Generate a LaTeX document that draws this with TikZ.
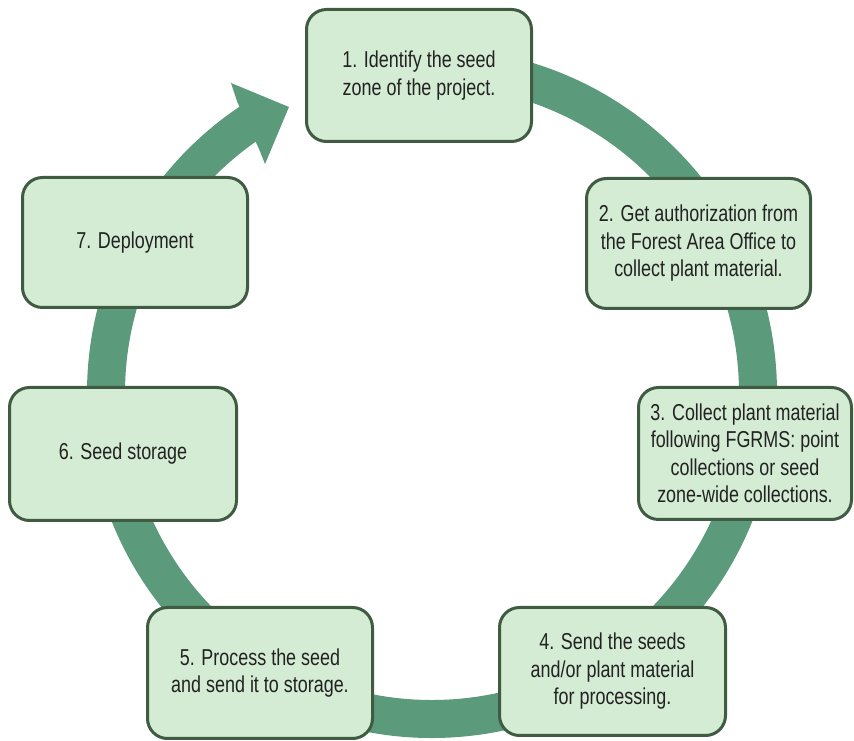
\documentclass[tikz,border=0pt]{standalone}
\usepackage{fontspec}
\setmainfont{Liberation Sans}[FakeStretch=0.78]
\definecolor{ringgreen}{HTML}{5B9A7B}
\definecolor{boxfill}{HTML}{D4EBD4}
\definecolor{boxline}{HTML}{3F5C43}
\definecolor{txt}{HTML}{222222}
\begin{document}
\begin{tikzpicture}[x=1pt,y=1pt,
  stepbox/.style={draw=boxline, fill=boxfill, line width=3pt, rounded corners=20pt,
    align=center, text=txt, inner sep=4pt,
    font=\fontsize{23}{27.5}\selectfont},
  ring/.style={draw=ringgreen, line width=38pt},
  ringhead/.style={fill=ringgreen}]
\useasboundingbox (0,0) rectangle (854,741);
\coordinate (c) at (432,348);
% ring
\draw[ring] ([shift={(95:326)}]c) arc[start angle=95, end angle=-236.3, radius=326];
\fill[ringhead] ([shift={(122.96:369.5)}]c) -- ([shift={(116.57:319.8)}]c) -- ([shift={(126.1:283.4)}]c) -- ([shift={(125.3:300)}]c) -- ([shift={(123.8:350)}]c) -- cycle;
% boxes
\node[stepbox, minimum width=225pt, minimum height=132pt] (s1) at (419,665.5) {1. Identify the seed\\zone of the project.};
\node[stepbox, minimum width=224pt, minimum height=130pt] (s2) at (698.5,497.5) {2. Get authorization from\\the Forest Area Office to\\collect plant material.};
\node[stepbox, minimum width=213pt, minimum height=132pt] (s3) at (745,287.5) {3. Collect plant material\\following FGRMS: point\\collections or seed\\zone-wide collections.};
\node[stepbox, minimum width=226pt, minimum height=128pt] (s4) at (612.5,69.5) {4. Send the seeds\\and/or plant material\\for processing.};
\node[stepbox, minimum width=225pt, minimum height=131pt] (s5) at (260,68) {5. Process the seed\\and send it to storage.};
\node[stepbox, minimum width=227pt, minimum height=133pt] (s6) at (123,287) {6. Seed storage};
\node[stepbox, minimum width=225pt, minimum height=130pt] (s7) at (135,498.5) {7. Deployment};
\end{tikzpicture}
\end{document}
